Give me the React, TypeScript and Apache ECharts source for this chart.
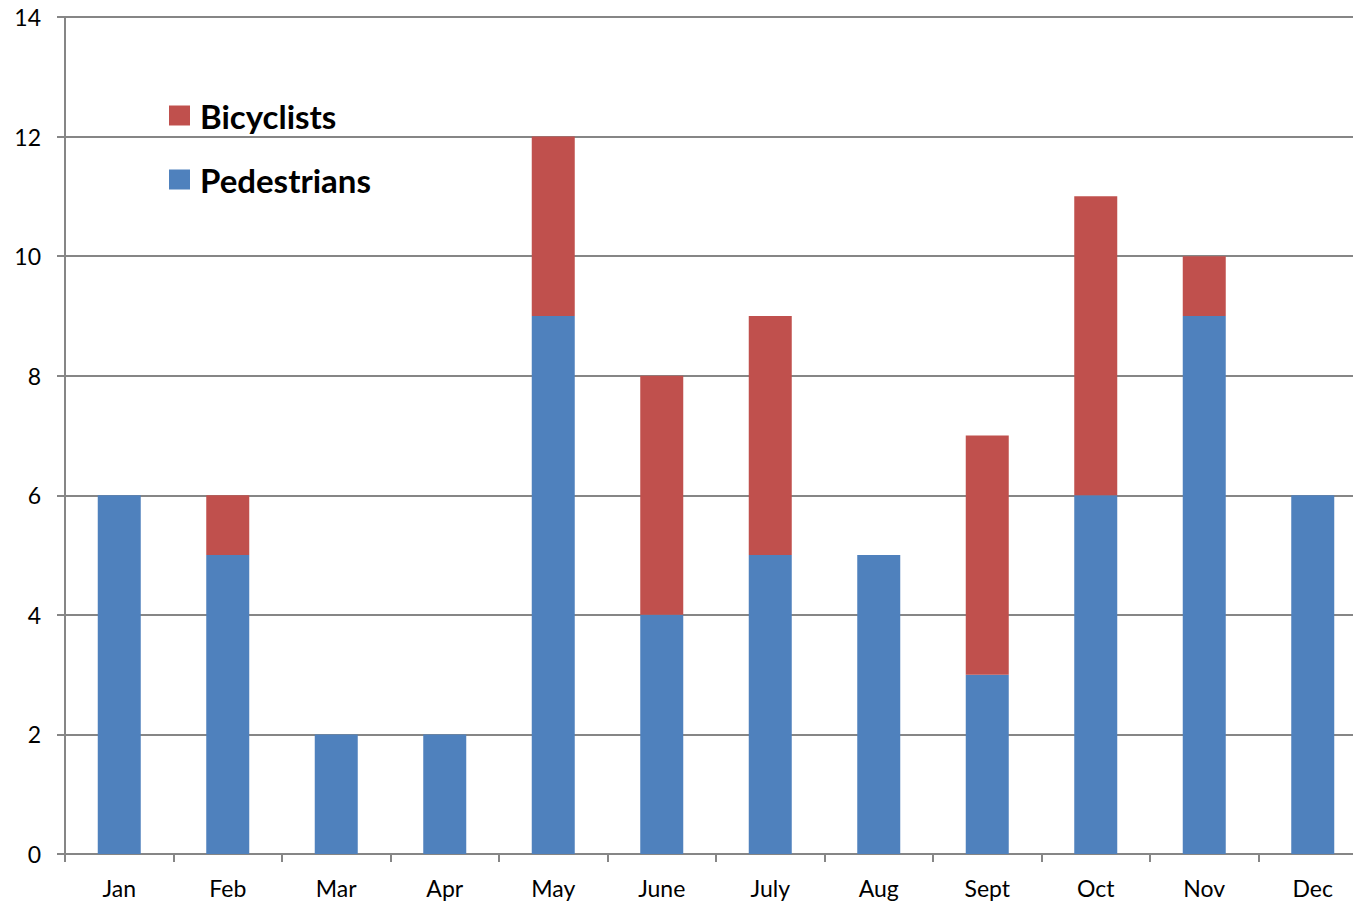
import React, { useEffect, useRef } from "react";
import * as echarts from "echarts";

const months = ["Jan", "Feb", "Mar", "Apr", "May", "June", "July", "Aug", "Sept", "Oct", "Nov", "Dec"];
const pedestrians = [6, 5, 2, 2, 9, 4, 5, 5, 3, 6, 9, 6];
const bicyclists = [0, 1, 0, 0, 3, 4, 4, 0, 4, 5, 1, 0];

const FONT = "Lato, 'Open Sans', sans-serif";

export default function App() {
  const ref = useRef<HTMLDivElement>(null);
  useEffect(() => {
    if (!ref.current) return;
    const chart = echarts.init(ref.current, undefined, { renderer: "svg" });
    chart.setOption({
      animation: false,
      backgroundColor: "#ffffff",
      textStyle: { fontFamily: FONT },
      grid: { left: 65, top: 17, right: 0, bottom: 49, containLabel: false },
      legend: {
        orient: "vertical",
        left: 164,
        top: 94,
        itemWidth: 21,
        itemHeight: 20,
        itemGap: 31,
        icon: "rect",
        data: ["Bicyclists", "Pedestrians"],
        textStyle: { fontSize: 33, fontWeight: "bold", color: "#000", fontFamily: FONT, padding: [0, 0, 0, 5] },
      },
      xAxis: {
        type: "category",
        data: months,
        axisLine: { lineStyle: { color: "#868686", width: 2 } },
        axisTick: { show: true, length: 8, alignWithLabel: false, lineStyle: { color: "#868686", width: 2 } },
        axisLabel: { color: "#000", fontSize: 23, margin: 22, fontFamily: FONT },
      },
      yAxis: {
        type: "value",
        min: 0,
        max: 14,
        interval: 2,
        axisLine: { show: true, lineStyle: { color: "#868686", width: 2 } },
        axisTick: { show: true, length: 8, lineStyle: { color: "#868686", width: 2 } },
        axisLabel: { color: "#000", fontSize: 23, margin: 24, fontFamily: FONT },
        splitLine: { show: true, lineStyle: { color: "#868686", width: 2 } },
      },
      series: [
        {
          name: "Pedestrians",
          type: "bar",
          stack: "total",
          data: pedestrians,
          barWidth: 43,
          itemStyle: { color: "#4F81BD" },
        },
        {
          name: "Bicyclists",
          type: "bar",
          stack: "total",
          data: bicyclists.map((v) => (v === 0 ? null : v)),
          barWidth: 43,
          itemStyle: { color: "#C0504D" },
        },
      ],
    });
    return () => chart.dispose();
  }, []);
  return (
    <div style={{ position: "fixed", left: 0, top: 0, width: 1353, height: 903, overflow: "hidden" }}>
      <div ref={ref} style={{ width: 1367, height: 903 }} />
    </div>
  );
}
